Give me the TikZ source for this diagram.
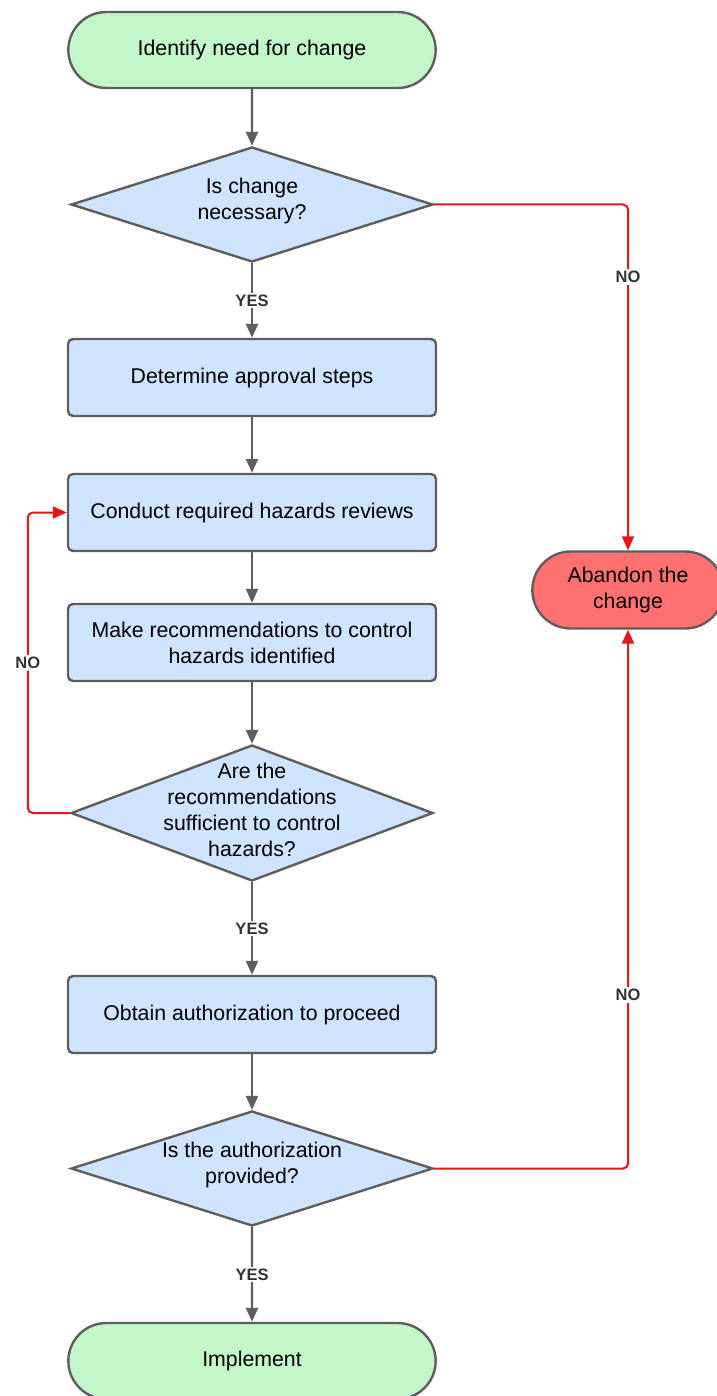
\documentclass[tikz,border=0pt]{standalone}
\usepackage{fontspec}
\setmainfont{Liberation Sans}
\usetikzlibrary{shapes,arrows.meta,positioning}
\definecolor{startgreen}{RGB}{195,246,200}
\definecolor{stepblue}{RGB}{207,228,255}
\definecolor{stopred}{RGB}{255,112,112}
\definecolor{edgegray}{RGB}{94,94,94}
\definecolor{nored}{RGB}{228,22,22}
\definecolor{labelgray}{RGB}{51,51,51}
\tikzstyle{terminal} = [rounded rectangle, draw=edgegray, line width=2.4pt, minimum width=374pt, minimum height=76pt, align=center, font=\fontsize{21.3}{26}\selectfont]
\tikzstyle{stepbox} = [rectangle, rounded corners=5pt, draw=edgegray, fill=stepblue, line width=2.4pt, minimum width=368pt, minimum height=77pt, align=center, font=\fontsize{21.3}{26}\selectfont]
\tikzstyle{decision} = [diamond, draw=edgegray, fill=stepblue, line width=2.4pt, inner sep=0pt, minimum width=362pt]
\tikzstyle{qtext} = [align=center, font=\fontsize{21.3}{26}\selectfont]
\tikzstyle{line} = [draw=edgegray, line width=2.4pt, -{Triangle[length=14pt,width=12pt]}]
\tikzstyle{noline} = [draw=nored, line width=2pt, rounded corners=5pt, -{Triangle[length=14pt,width=12pt]}]
\tikzstyle{answer} = [fill=white, inner sep=2pt, text=labelgray, font=\bfseries\fontsize{16.5}{19}\selectfont]

\begin{document}
\begin{tikzpicture}[x=1pt,y=-1pt]

\useasboundingbox (0,0) rectangle (716,1396);

% main column
\node[terminal, fill=startgreen] (start) at (252,50) {Identify need for change};
\node[decision, minimum height=115pt] (d1) at (252,204.5) {};
\node[qtext] (d1t) at (252,201) {Is change\\necessary?};
\node[stepbox] (b1) at (252,377.5) {Determine approval steps};
\node[stepbox] (b2) at (252,512.5) {Conduct required hazards reviews};
\node[stepbox] (b3) at (252,642.5) {Make recommendations to control\\hazards identified};
\node[decision, minimum height=136pt] (d2) at (252,813) {};
\node[qtext] (d2t) at (252,810) {Are the\\recommendations\\sufficient to control\\hazards?};
\node[stepbox] (b4) at (252,1014.5) {Obtain authorization to proceed};
\node[decision, minimum height=115pt] (d3) at (252,1168.5) {};
\node[qtext] (d3t) at (252,1165) {Is the authorization\\provided?};
\node[terminal, fill=startgreen] (stop) at (252,1361) {Implement};

% side exit
\node[terminal, fill=stopred, minimum width=198pt, minimum height=77pt] (abandon) at (628,590) {Abandon the\\change};

% yes path
\path[line] (start) -- (d1);
\path[line] (d1) -- node[answer] {YES} (b1);
\path[line] (b1) -- (b2);
\path[line] (b2) -- (b3);
\path[line] (b3) -- (d2);
\path[line] (d2) -- node[answer] {YES} (b4);
\path[line] (b4) -- (d3);
\path[line] (d3) -- node[answer] {YES} (stop);

% no paths
\path[noline] (d1.east) -| node[answer, pos=0.605] {NO} (abandon.north);
\path[noline] (d3.east) -| node[answer, pos=0.661] {NO} (abandon.south);
\path[noline] (d2.west) -- ++(-42,0) |- node[answer, pos=0.25] {NO} (b2.west);

\end{tikzpicture}
\end{document}
